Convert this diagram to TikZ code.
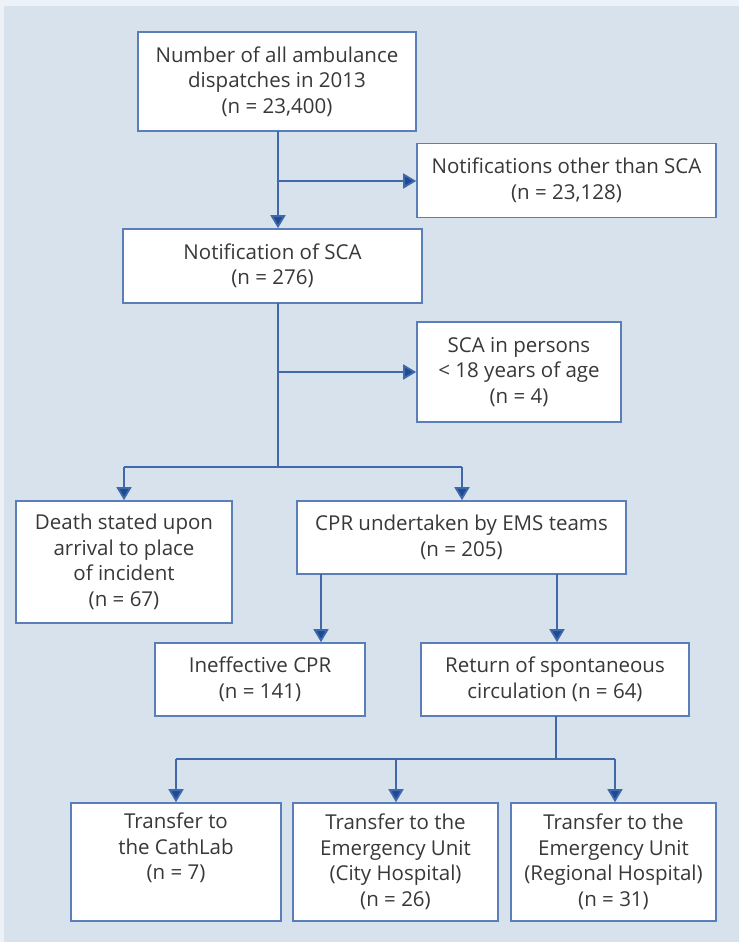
\documentclass[tikz,border=0pt]{standalone}
\usepackage{fontspec}
\setmainfont{Open Sans}
\usetikzlibrary{arrows.meta}
\definecolor{bgtop}{HTML}{EDF1F8}
\definecolor{panel}{HTML}{D8E2ED}
\definecolor{boxline}{HTML}{5A7FB8}
\definecolor{conn}{HTML}{3F69AA}
\definecolor{tip}{HTML}{1D4A92}
\definecolor{txt}{HTML}{383838}
\tikzset{
  flowbox/.style={draw=boxline, line width=1.6pt, fill=white, align=center,
    text=txt, font=\fontsize{20.5}{25.5}\selectfont, inner sep=0pt, anchor=center},
  conline/.style={draw=conn, line width=1.8pt},
  conarrow/.style={conline, -{Triangle[width=15pt,length=13pt,fill=tip]}},
}
\begin{document}
\begin{tikzpicture}[x=1pt,y=-1pt]
\useasboundingbox (0,0) rectangle (739,942);
\fill[bgtop] (0,0) rectangle (739,942);
\fill[panel] (4,6) rectangle (739,942);
% boxes
\node[flowbox, minimum width=278pt, minimum height=99pt] (b1) at (277,81.5) {Number of all ambulance\\dispatches in 2013\\(n = 23,400)};
\node[flowbox, minimum width=299pt, minimum height=74pt] (b2) at (566.5,180.5) {Notifications other than SCA\\(n = 23,128)};
\node[flowbox, minimum width=299pt, minimum height=74pt] (b3) at (272.5,266) {Notification of SCA\\(n = 276)};
\node[flowbox, minimum width=204pt, minimum height=100pt] (b4) at (519,372) {SCA in persons\\< 18 years of age\\(n = 4)};
\node[flowbox, minimum width=216pt, minimum height=122pt] (b5) at (124,562) {Death stated upon\\arrival to place\\of incident\\(n = 67)};
\node[flowbox, minimum width=329pt, minimum height=73pt] (b6) at (461.5,537.5) {CPR undertaken by EMS teams\\(n = 205)};
\node[flowbox, minimum width=210pt, minimum height=73pt] (b7) at (260,679.5) {Ineffective CPR\\(n = 141)};
\node[flowbox, minimum width=268pt, minimum height=73pt] (b8) at (555,679.5) {Return of spontaneous\\circulation (n = 64)};
\node[flowbox, minimum width=210pt, minimum height=118pt] (b9) at (176,862) {Transfer to\\the CathLab\\(n = 7)\\[6pt]};
\node[flowbox, minimum width=205pt, minimum height=118pt] (b10) at (395.5,862) {Transfer to the\\Emergency Unit\\(City Hospital)\\(n = 26)};
\node[flowbox, minimum width=205pt, minimum height=118pt] (b11) at (613.5,862) {Transfer to the\\Emergency Unit\\(Regional Hospital)\\(n = 31)};
% junction coordinates
\coordinate (s1) at (278,131);
\coordinate (j1) at (278,181);
\coordinate (s3) at (278,303);
\coordinate (j2) at (278,372);
\coordinate (j3) at (278,467);
\coordinate (l3) at (124,467);
\coordinate (r3) at (462,467);
\coordinate (s6a) at (321,574);
\coordinate (s6b) at (557,574);
\coordinate (s8) at (556,716);
\coordinate (j4) at (556,759);
\coordinate (l4) at (176,759);
\coordinate (m4) at (396,759);
\coordinate (r4) at (615,759);
% connectors
\draw[conarrow] (s1) -- (s1 |- b3.north);
\draw[conarrow] (j1) -- (j1 -| b2.west);
\draw[conline] (s3) -- (j3);
\draw[conarrow] (j2) -- (j2 -| b4.west);
\draw[conline] (l3) -- (r3);
\draw[conarrow] (l3) -- (b5.north);
\draw[conarrow] (r3) -- (r3 |- b6.north);
\draw[conarrow] (s6a) -- (s6a |- b7.north);
\draw[conarrow] (s6b) -- (s6b |- b8.north);
\draw[conline] (s8) -- (j4);
\draw[conline] (l4) -- (r4);
\draw[conarrow] (l4) -- (b9.north);
\draw[conarrow] (m4) -- (m4 |- b10.north);
\draw[conarrow] (r4) -- (r4 |- b11.north);
\end{tikzpicture}
\end{document}
